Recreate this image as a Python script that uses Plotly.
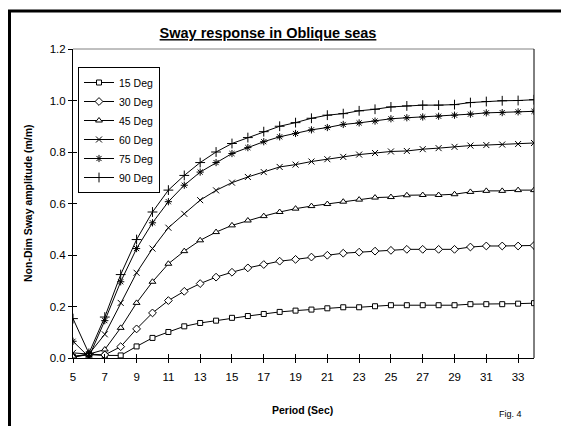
import plotly.graph_objects as go

period = list(range(5, 35))

deg15 = [0.004, 0.013, 0.010, 0.010, 0.045, 0.078, 0.101, 0.123, 0.136, 0.145, 0.156, 0.163, 0.171, 0.179, 0.184,
         0.188, 0.193, 0.197, 0.197, 0.201, 0.205, 0.205, 0.205, 0.205, 0.205, 0.209, 0.209, 0.209, 0.211, 0.213]
deg30 = [0.004, 0.015, 0.012, 0.044, 0.113, 0.175, 0.223, 0.259, 0.289, 0.314, 0.333, 0.350, 0.363, 0.376, 0.383,
         0.392, 0.399, 0.407, 0.411, 0.415, 0.418, 0.422, 0.422, 0.422, 0.422, 0.431, 0.435, 0.435, 0.435, 0.437]
deg45 = [0.006, 0.015, 0.033, 0.117, 0.214, 0.296, 0.366, 0.415, 0.457, 0.489, 0.515, 0.534, 0.551, 0.567, 0.580,
         0.590, 0.598, 0.607, 0.615, 0.623, 0.625, 0.632, 0.633, 0.633, 0.636, 0.645, 0.649, 0.649, 0.652, 0.652]
deg60 = [0.020, 0.015, 0.092, 0.214, 0.331, 0.425, 0.506, 0.560, 0.613, 0.651, 0.681, 0.703, 0.722, 0.742, 0.751,
         0.763, 0.772, 0.781, 0.790, 0.796, 0.802, 0.804, 0.811, 0.815, 0.820, 0.825, 0.827, 0.829, 0.831, 0.835]
deg75 = [0.065, 0.004, 0.145, 0.296, 0.425, 0.525, 0.607, 0.671, 0.722, 0.759, 0.794, 0.817, 0.840, 0.859, 0.872,
         0.886, 0.895, 0.907, 0.913, 0.920, 0.929, 0.933, 0.936, 0.939, 0.943, 0.947, 0.952, 0.953, 0.956, 0.958]
deg90 = [0.153, 0.018, 0.159, 0.324, 0.460, 0.567, 0.652, 0.709, 0.759, 0.800, 0.833, 0.856, 0.879, 0.900, 0.914,
         0.931, 0.943, 0.949, 0.960, 0.966, 0.975, 0.979, 0.982, 0.982, 0.984, 0.992, 0.996, 0.999, 1.000, 1.003]

series_names = ["15 Deg", "30 Deg", "45 Deg", "60 Deg", "75 Deg", "90 Deg"]
series_values = [deg15, deg30, deg45, deg60, deg75, deg90]
symbols = ["square", "diamond", "triangle-up", "x-thin-open", "asterisk-open", "cross-thin-open"]
sizes = [5, 6, 6, 6, 6, 7]

x_ticks = list(range(5, 35, 2))
y_ticks = [0.0, 0.2, 0.4, 0.6, 0.8, 1.0, 1.2]

FONT = "Arial, Liberation Sans, sans-serif"

fig = go.Figure()
for name, vals, sym, sz in zip(series_names, series_values, symbols, sizes):
    fig.add_trace(go.Scatter(
        x=period, y=vals, name=name, mode="lines+markers",
        line=dict(color="black", width=1),
        marker=dict(symbol=sym, size=sz, color="white" if "open" not in sym else "black",
                    line=dict(color="black", width=1)),
    ))
# empty helper trace so the overlaid tick-only axes are drawn (crossing ticks)
fig.add_trace(go.Scatter(x=[], y=[], xaxis="x2", yaxis="y2", showlegend=False, hoverinfo="skip"))

W, H = 561, 426
L, R, T, B = 73, 27, 49, 68
pw, ph = W - L - R, H - T - B

def px2x(p):
    return (p - L) / pw

def py2y(p):
    return (H - B - p) / ph

fig.update_layout(
    width=W, height=H,
    margin=dict(l=L, r=R, t=T, b=B),
    paper_bgcolor="white", plot_bgcolor="white",
    font=dict(family=FONT, size=10, color="black"),
    showlegend=True,
    legend=dict(x=px2x(78), y=py2y(67), xanchor="left", yanchor="top",
                bgcolor="white", bordercolor="black", borderwidth=1,
                font=dict(size=10.5, family=FONT), itemwidth=30, tracegroupgap=0),
    title=dict(text="<b><u>Sway response in Oblique seas</u></b>", x=268 / W, xanchor="center",
               y=1 - 33 / H, yanchor="middle", font=dict(size=14.5, family=FONT)),
    xaxis=dict(range=[5, 34], tickvals=x_ticks, ticks="outside", ticklen=4, tickcolor="black",
               showline=True, linecolor="black", linewidth=1, showgrid=False, zeroline=False,
               tickfont=dict(size=11.5), ticklabelstandoff=4),
    yaxis=dict(range=[0, 1.2], tickvals=y_ticks, ticktext=[f"{v:.1f}" for v in y_ticks],
               ticks="outside", ticklen=4, tickcolor="black",
               showline=True, linecolor="black", linewidth=1, showgrid=False, zeroline=False,
               tickfont=dict(size=11.5)),
    xaxis2=dict(overlaying="x", anchor="y", side="bottom", range=[5, 34], tickvals=x_ticks,
                ticks="inside", ticklen=4, tickcolor="black", showticklabels=False,
                showline=False, showgrid=False, zeroline=False),
    yaxis2=dict(overlaying="y", anchor="x", side="left", range=[0, 1.2], tickvals=y_ticks,
                ticks="inside", ticklen=4, tickcolor="black", showticklabels=False,
                showline=False, showgrid=False, zeroline=False),
    annotations=[
        dict(text="<b>Non-Dim Sway amplitude (m/m)</b>", textangle=-90, xref="paper", yref="paper",
             x=px2x(28), y=py2y(203), xanchor="center", yanchor="middle",
             showarrow=False, font=dict(size=10.5)),
        dict(text="<b>Period (Sec)</b>", xref="paper", yref="paper",
             x=px2x(302), y=py2y(410), xanchor="center", yanchor="middle",
             showarrow=False, font=dict(size=10.5)),
        dict(text="Fig. 4", xref="paper", yref="paper",
             x=px2x(510), y=py2y(414), xanchor="center", yanchor="middle",
             showarrow=False, font=dict(size=9)),
    ],
    shapes=[
        dict(type="line", xref="paper", yref="paper", x0=0, x1=1, y0=1, y1=1,
             line=dict(color="#808080", width=1)),
        dict(type="line", xref="paper", yref="paper", x0=1, x1=1, y0=0, y1=1,
             line=dict(color="black", width=1)),
        dict(type="line", xref="paper", yref="paper", x0=px2x(8), x1=px2x(580), y0=py2y(11), y1=py2y(11),
             line=dict(color="black", width=3)),
        dict(type="line", xref="paper", yref="paper", x0=px2x(9.5), x1=px2x(9.5), y0=py2y(10), y1=py2y(440),
             line=dict(color="black", width=3)),
    ],
)

fig.write_html("out.html", config={"displayModeBar": False},
               post_script="document.body.style.margin='0';document.body.style.overflow='hidden';")
